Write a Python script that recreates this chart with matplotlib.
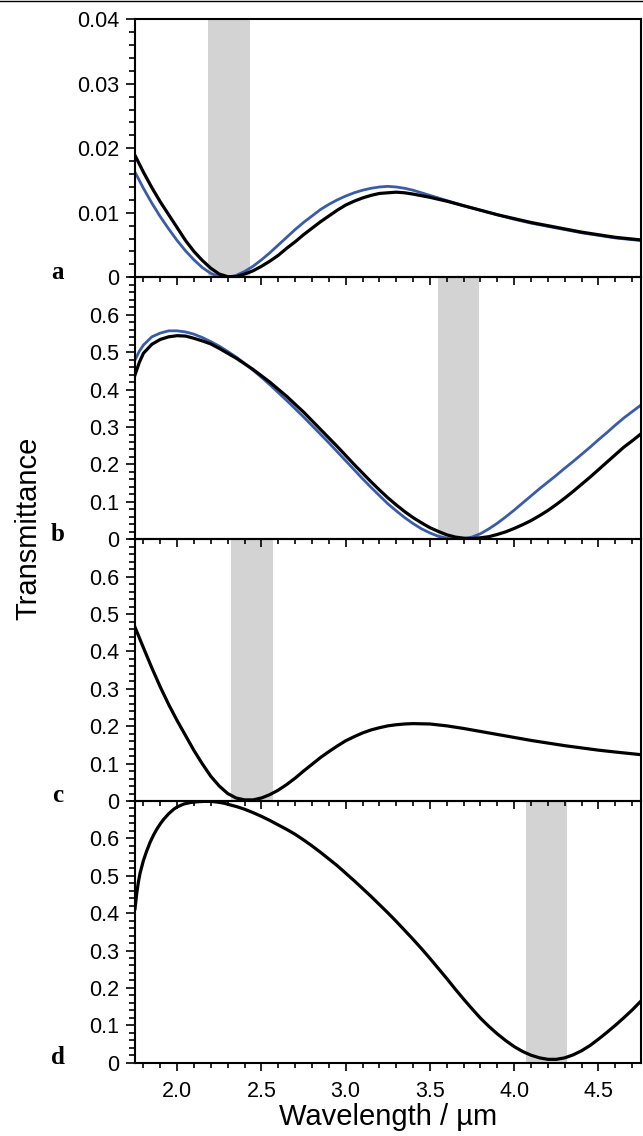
import matplotlib
matplotlib.use("Agg")
import matplotlib.pyplot as plt
from matplotlib.ticker import MultipleLocator, FixedLocator, FuncFormatter
from matplotlib.lines import Line2D

# ---------------- data ----------------
panel_labels = ["a", "b", "c", "d"]

bands = [(2.185, 2.43), (3.55, 3.793), (2.32, 2.567), (4.07, 4.316)]

# panel a
xa_black = [1.75, 1.80, 1.85, 1.90, 1.95, 2.00, 2.05, 2.10, 2.15, 2.20, 2.25, 2.30, 2.35,
            2.40, 2.45, 2.50, 2.55, 2.60, 2.65, 2.70, 2.75, 2.80, 2.85, 2.90, 2.95, 3.00,
            3.05, 3.10, 3.15, 3.20, 3.25, 3.30, 3.35, 3.40, 3.50, 3.60, 3.70, 3.80, 3.90,
            4.00, 4.10, 4.20, 4.30, 4.40, 4.50, 4.60, 4.75]
ya_black = [0.0189, 0.0163, 0.0139, 0.0117, 0.0097, 0.0077, 0.0057, 0.0040, 0.0026, 0.0014,
            0.0005, 0.0001, 0.0001, 0.0005, 0.0010, 0.0017, 0.0025, 0.0034, 0.0045, 0.0055,
            0.0066, 0.0076, 0.0086, 0.0095, 0.0104, 0.0112, 0.0118, 0.0123, 0.0127, 0.0130,
            0.0131, 0.0132, 0.0131, 0.0129, 0.0124, 0.0118, 0.0111, 0.0104, 0.0097, 0.0091,
            0.0085, 0.0080, 0.0075, 0.0070, 0.0066, 0.0062, 0.0058]
xa_blue = [1.75, 1.80, 1.85, 1.90, 1.95, 2.00, 2.05, 2.10, 2.15, 2.20, 2.25, 2.30, 2.35,
           2.40, 2.45, 2.50, 2.55, 2.60, 2.65, 2.70, 2.75, 2.80, 2.85, 2.90, 2.95, 3.00,
           3.05, 3.10, 3.15, 3.20, 3.25, 3.30, 3.35, 3.40, 3.50, 3.60, 3.70, 3.80, 3.90,
           4.00, 4.10, 4.20, 4.30, 4.40, 4.50, 4.60, 4.75]
ya_blue = [0.0163, 0.0138, 0.0115, 0.0094, 0.0075, 0.0057, 0.0041, 0.0027, 0.0015, 0.0006,
           0.0001, 0.0000, 0.0003, 0.0009, 0.0017, 0.0027, 0.0038, 0.0050, 0.0062, 0.0074,
           0.0085, 0.0095, 0.0105, 0.0113, 0.0120, 0.0126, 0.0131, 0.0135, 0.0138, 0.0140,
           0.0141, 0.0140, 0.0138, 0.0135, 0.0127, 0.0119, 0.0111, 0.0104, 0.0097, 0.0090,
           0.0084, 0.0079, 0.0074, 0.0069, 0.0065, 0.0061, 0.0057]

# panel b
xb_black = [1.75, 1.775, 1.80, 1.85, 1.90, 1.95, 2.00, 2.05, 2.10, 2.15, 2.20, 2.25, 2.30,
            2.35, 2.40, 2.45, 2.50, 2.55, 2.60, 2.65, 2.70, 2.75, 2.80, 2.85, 2.90, 2.95,
            3.00, 3.05, 3.10, 3.15, 3.20, 3.25, 3.30, 3.35, 3.40, 3.45, 3.50, 3.55, 3.60,
            3.65, 3.70, 3.75, 3.80, 3.85, 3.90, 3.95, 4.00, 4.05, 4.10, 4.15, 4.20, 4.25,
            4.30, 4.35, 4.40, 4.45, 4.50, 4.55, 4.60, 4.65, 4.70, 4.75]
yb_black = [0.439, 0.472, 0.497, 0.521, 0.534, 0.541, 0.544, 0.543, 0.537, 0.530, 0.522,
            0.510, 0.497, 0.484, 0.469, 0.454, 0.437, 0.420, 0.401, 0.382, 0.361, 0.340,
            0.317, 0.294, 0.271, 0.248, 0.224, 0.200, 0.177, 0.154, 0.132, 0.111, 0.092,
            0.074, 0.058, 0.044, 0.031, 0.021, 0.012, 0.006, 0.003, 0.002, 0.004, 0.007,
            0.013, 0.020, 0.029, 0.039, 0.050, 0.063, 0.077, 0.093, 0.110, 0.128, 0.147,
            0.166, 0.186, 0.206, 0.226, 0.246, 0.263, 0.281]
xb_blue = [1.75, 1.775, 1.80, 1.85, 1.90, 1.95, 2.00, 2.05, 2.10, 2.15, 2.20, 2.25, 2.30,
           2.35, 2.40, 2.45, 2.50, 2.55, 2.60, 2.65, 2.70, 2.75, 2.80, 2.85, 2.90, 2.95,
           3.00, 3.05, 3.10, 3.15, 3.20, 3.25, 3.30, 3.35, 3.40, 3.45, 3.50, 3.55, 3.60,
           3.65, 3.70, 3.75, 3.80, 3.85, 3.90, 3.95, 4.00, 4.05, 4.10, 4.15, 4.20, 4.25,
           4.30, 4.35, 4.40, 4.45, 4.50, 4.55, 4.60, 4.65, 4.70, 4.75]
yb_blue = [0.479, 0.502, 0.519, 0.541, 0.551, 0.557, 0.557, 0.554, 0.548, 0.539, 0.528,
           0.516, 0.502, 0.487, 0.470, 0.452, 0.433, 0.413, 0.392, 0.371, 0.349, 0.327,
           0.304, 0.281, 0.258, 0.234, 0.210, 0.186, 0.162, 0.139, 0.117, 0.095, 0.076,
           0.058, 0.042, 0.028, 0.017, 0.008, 0.003, 0.000, 0.001, 0.006, 0.015, 0.028,
           0.043, 0.060, 0.078, 0.097, 0.116, 0.135, 0.153, 0.171, 0.190, 0.208, 0.227,
           0.246, 0.266, 0.285, 0.305, 0.324, 0.341, 0.358]

# panel c
xc_black = [1.75, 1.80, 1.85, 1.90, 1.95, 2.00, 2.05, 2.10, 2.15, 2.20, 2.25, 2.30, 2.35,
            2.40, 2.45, 2.50, 2.55, 2.60, 2.65, 2.70, 2.75, 2.80, 2.85, 2.90, 2.95, 3.00,
            3.05, 3.10, 3.15, 3.20, 3.25, 3.30, 3.35, 3.40, 3.50, 3.60, 3.70, 3.80, 3.90,
            4.00, 4.10, 4.20, 4.30, 4.40, 4.50, 4.60, 4.75]
yc_black = [0.465, 0.410, 0.356, 0.305, 0.258, 0.215, 0.175, 0.135, 0.099, 0.066, 0.040,
            0.020, 0.008, 0.003, 0.003, 0.008, 0.017, 0.029, 0.044, 0.061, 0.080, 0.098,
            0.116, 0.132, 0.147, 0.161, 0.172, 0.182, 0.190, 0.196, 0.201, 0.204, 0.206,
            0.207, 0.206, 0.201, 0.194, 0.186, 0.178, 0.170, 0.162, 0.155, 0.148, 0.142,
            0.136, 0.131, 0.124]

# panel d
xd_black = [1.75, 1.76, 1.77, 1.78, 1.80, 1.82, 1.84, 1.86, 1.88, 1.90, 1.92, 1.95, 1.98,
            2.00, 2.04, 2.08, 2.12, 2.16, 2.20, 2.24, 2.28, 2.32, 2.36, 2.40, 2.45, 2.50,
            2.55, 2.60, 2.65, 2.70, 2.75, 2.80, 2.85, 2.90, 2.95, 3.00, 3.05, 3.10, 3.15,
            3.20, 3.25, 3.30, 3.35, 3.40, 3.45, 3.50, 3.55, 3.60, 3.65, 3.70, 3.75, 3.80,
            3.85, 3.90, 3.95, 4.00, 4.05, 4.10, 4.15, 4.20, 4.25, 4.30, 4.35, 4.40, 4.45,
            4.50, 4.55, 4.60, 4.65, 4.70, 4.75]
yd_black = [0.412, 0.452, 0.483, 0.507, 0.541, 0.567, 0.590, 0.609, 0.625, 0.639, 0.651,
            0.666, 0.678, 0.684, 0.692, 0.696, 0.698, 0.699, 0.699, 0.697, 0.694, 0.689,
            0.684, 0.678, 0.669, 0.659, 0.648, 0.636, 0.624, 0.611, 0.596, 0.580, 0.563,
            0.545, 0.527, 0.507, 0.487, 0.466, 0.445, 0.423, 0.401, 0.378, 0.354, 0.330,
            0.305, 0.279, 0.252, 0.225, 0.197, 0.170, 0.144, 0.119, 0.097, 0.077, 0.059,
            0.043, 0.030, 0.020, 0.013, 0.009, 0.009, 0.013, 0.021, 0.032, 0.046, 0.063,
            0.081, 0.100, 0.120, 0.141, 0.164]

series = [
    [(xa_blue, ya_blue, "blue"), (xa_black, ya_black, "black")],
    [(xb_blue, yb_blue, "blue"), (xb_black, yb_black, "black")],
    [(xc_black, yc_black, "black")],
    [(xd_black, yd_black, "black")],
]

x_range = (1.75, 4.75)
y_ranges = [(0, 0.04), (0, 0.7), (0, 0.7), (0, 0.7)]
y_major = [[0, 0.01, 0.02, 0.03, 0.04],
           [0, 0.1, 0.2, 0.3, 0.4, 0.5, 0.6],
           [0, 0.1, 0.2, 0.3, 0.4, 0.5, 0.6],
           [0, 0.1, 0.2, 0.3, 0.4, 0.5, 0.6]]
y_minor = [0.002, 0.02, 0.02, 0.02]

# ---------------- style ----------------
plt.rcParams['font.family'] = ['Liberation Sans', 'DejaVu Sans']
W, H = 643, 1136
fig = plt.figure(figsize=(W / 100, H / 100), dpi=100)

colors = {"blue": "#3a5ca8", "black": "black"}
widths = {"blue": 2.0, "black": 2.3}

left_px, right_px = 135, 640.6
bounds_px = [(19.3, 277.3), (277.3, 539.3), (539.3, 801.0), (801.0, 1062.7)]

for i, (top, bot) in enumerate(bounds_px):
    ax = fig.add_axes([left_px / W, 1 - bot / H, (right_px - left_px) / W, (bot - top) / H])
    ax.set_facecolor('none')
    ax.set_zorder(10 - i)
    b0, b1 = bands[i]
    ax.axvspan(b0, b1, color='#d3d3d3', lw=0, zorder=1)
    for xs, ys, c in series[i]:
        ax.plot(xs, ys, color=colors[c], lw=widths[c], zorder=3 if c == "black" else 2,
                solid_joinstyle='round')
    ax.set_xlim(*x_range)
    ax.set_ylim(*y_ranges[i])
    ax.xaxis.set_major_locator(MultipleLocator(0.5))
    ax.xaxis.set_minor_locator(MultipleLocator(0.1))
    ax.yaxis.set_major_locator(FixedLocator(y_major[i]))
    ax.yaxis.set_minor_locator(MultipleLocator(y_minor[i]))
    ax.yaxis.set_major_formatter(FuncFormatter(lambda v, p: f"{v:g}"))
    ax.xaxis.set_major_formatter(FuncFormatter(lambda v, p: f"{v:.1f}"))
    for s in ax.spines.values():
        s.set_linewidth(1.5)
    ax.tick_params(axis='both', which='both', top=False, right=False, direction='out',
                   width=1.2, labelsize=15.5, colors='black')
    ax.tick_params(axis='y', which='major', length=6.5, pad=5)
    ax.tick_params(axis='y', which='minor', length=4)
    ax.tick_params(axis='x', which='major', length=6, pad=7)
    ax.tick_params(axis='x', which='minor', length=3.5)
    if i < 3:
        ax.tick_params(axis='x', labelbottom=False)
    else:
        ax.set_xlabel("Wavelength / µm", fontsize=21, labelpad=1)
    fig.text(58 / W, 1 - (bot + 1.5) / H, panel_labels[i], fontsize=18, fontweight='bold',
             family=['Liberation Serif', 'DejaVu Serif'], ha='center', va='baseline')

fig.text(28 / W, 1 - 528.5 / H, "Transmittance", fontsize=21, rotation=90,
         ha='center', va='center')

fig.add_artist(Line2D([0, 1], [1 - 0.8 / H, 1 - 0.8 / H], transform=fig.transFigure,
                      color='black', lw=1.0))

fig.savefig("out.png", dpi=100)
